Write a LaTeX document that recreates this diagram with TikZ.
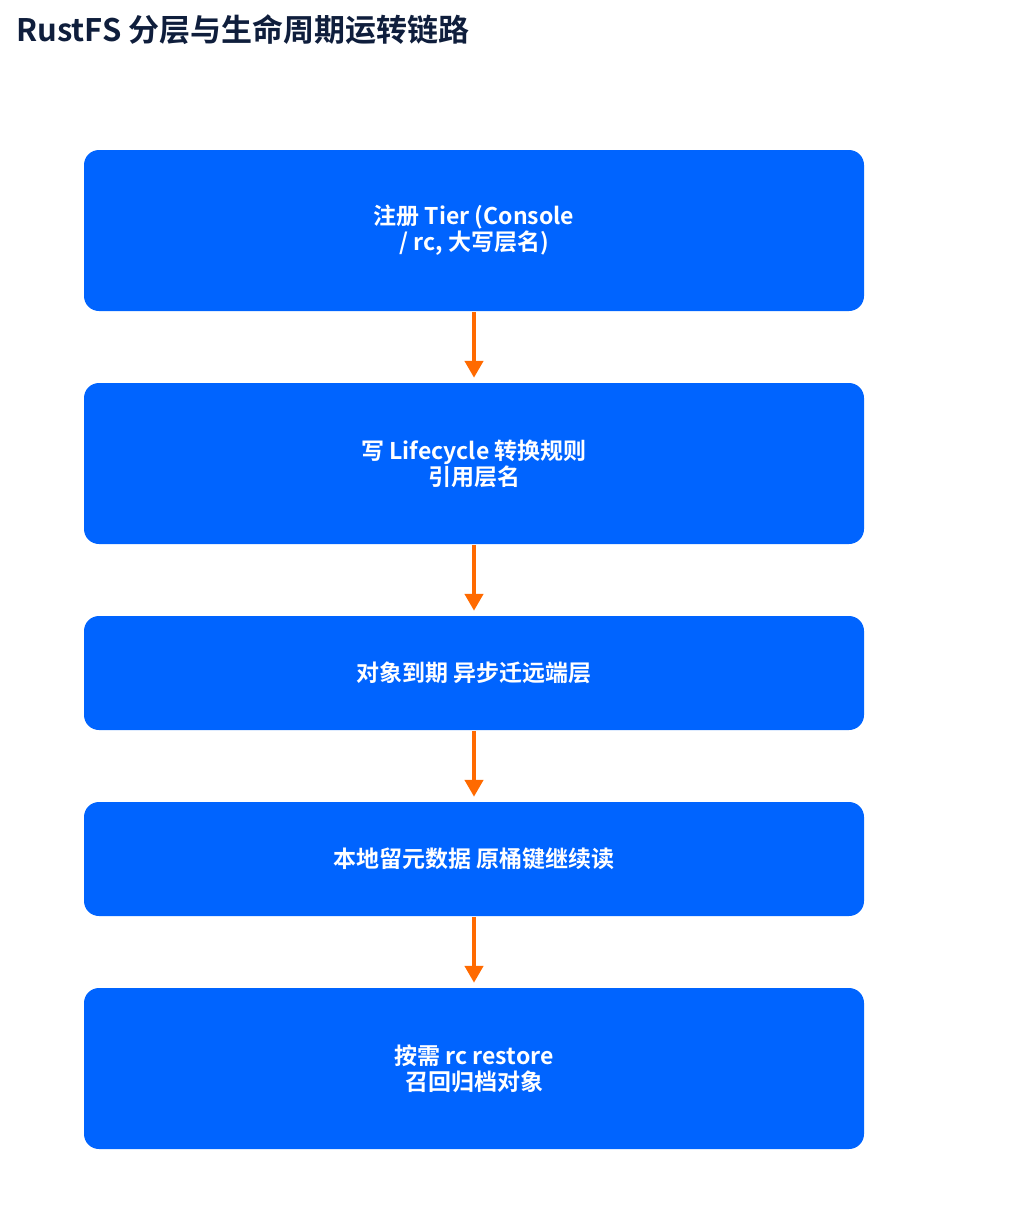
\documentclass[tikz,border=0pt]{standalone}
\usepackage{fontspec}
\setmainfont{Noto Sans CJK SC}[BoldFont={* Bold}]
\newfontfamily\cjkb{Noto Sans CJK SC Bold}
\usetikzlibrary{arrows.meta}
\definecolor{boxblue}{HTML}{0064FF}
\definecolor{arrorange}{HTML}{FF6A00}
\definecolor{titlenavy}{HTML}{0F1E3C}
\tikzset{
  x=1pt,y=-1pt,
  stepbox/.style={fill=boxblue, draw=none, rounded corners=15pt, text=white,
    font=\cjkb\fontsize{23}{26}\selectfont, align=center,
    minimum width=780pt, inner sep=0pt},
  flow/.style={draw=arrorange, line width=4.5pt, -{Triangle[length=17pt,width=18pt]}, shorten >=5pt, shorten <=1pt}
}
\begin{document}
\begin{tikzpicture}
\useasboundingbox (0,0) rectangle (1035,1218);
\node[anchor=west, text=titlenavy, font=\cjkb\fontsize{31}{35}\selectfont, inner sep=0pt] (title) at (16,30) {RustFS 分层与生命周期运转链路};
\node[stepbox, minimum height=161pt] (b1) at (474,230.5) {注册 Tier (Console\\/ rc, 大写层名)};
\node[stepbox, minimum height=161pt] (b2) at (474,463.5) {写 Lifecycle 转换规则\\引用层名};
\node[stepbox, minimum height=114pt] (b3) at (474,673) {对象到期 异步迁远端层};
\node[stepbox, minimum height=114pt] (b4) at (474,859) {本地留元数据 原桶键继续读};
\node[stepbox, minimum height=161pt] (b5) at (474,1068.5) {按需 rc restore\\召回归档对象};
\draw[flow] (b1.south) -- (b2.north);
\draw[flow] (b2.south) -- (b3.north);
\draw[flow] (b3.south) -- (b4.north);
\draw[flow] (b4.south) -- (b5.north);
\end{tikzpicture}
\end{document}
